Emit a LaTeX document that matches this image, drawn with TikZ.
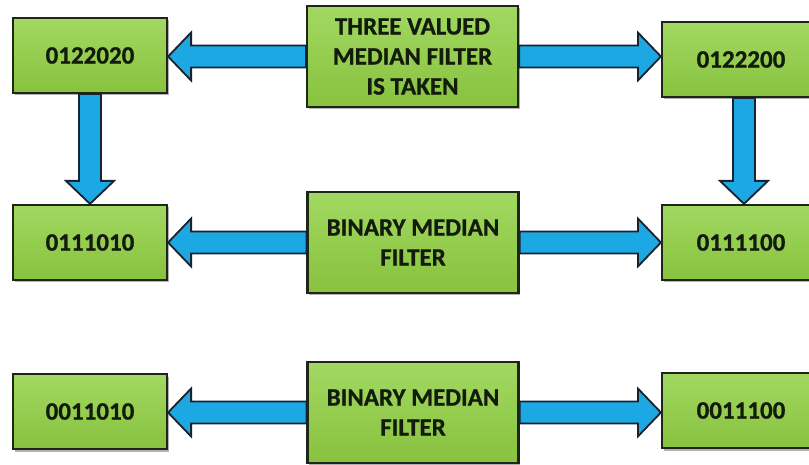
\documentclass[tikz,border=0pt]{standalone}
\usepackage{fontspec}
\setmainfont{Carlito}[BoldFeatures={FakeBold=0.9}]
\usetikzlibrary{calc,shadows}

\definecolor{boxline}{HTML}{1E2617}
\definecolor{gtop}{HTML}{A2D862}
\definecolor{gbot}{HTML}{88C23E}
\definecolor{txt}{HTML}{131B0C}
\definecolor{arrfill}{HTML}{1CA8E2}
\definecolor{arrline}{HTML}{17232E}

\tikzset{
  stagebox/.style={draw=boxline, line width=2.2pt, top color=gtop, bottom color=gbot,
    inner sep=0pt, align=center, text=txt,
    font=\bfseries\fontsize{25}{30}\selectfont,
    drop shadow={shadow xshift=1.5pt, shadow yshift=-2.5pt, opacity=0.3, fill=black}},
  valbox/.style={stagebox, minimum height=75pt},
  filterbox/.style={stagebox, minimum width=211pt, minimum height=101pt},
  % block arrow drawn as a closed outline between two anchors
  blockarrow/.style={draw=arrline, line width=1.8pt, fill=arrfill, line join=miter,
    to path={
      ($(\tikztostart)!11pt!90:(\tikztotarget)$)
      -- ($(\tikztotarget)!23pt!(\tikztostart)!11pt!-90:(\tikztostart)$)
      -- ($(\tikztotarget)!23pt!(\tikztostart)!24pt!-90:(\tikztostart)$)
      -- (\tikztotarget)
      -- ($(\tikztotarget)!23pt!(\tikztostart)!24pt!90:(\tikztostart)$)
      -- ($(\tikztotarget)!23pt!(\tikztostart)!11pt!90:(\tikztostart)$)
      -- ($(\tikztostart)!11pt!-90:(\tikztotarget)$)
      -- cycle}}
}

\begin{document}
\begin{tikzpicture}[x=1pt,y=-1pt]
  \clip (0,0) rectangle (809,465);
  \fill[white] (0,0) rectangle (809,465);

  % first row
  \node[filterbox] (c1) at (412.5,56.5) {THREE VALUED\\MEDIAN FILTER\\IS TAKEN};
  \node[valbox, minimum width=154pt] (l1) at (90,55.5) {0122020};
  \node[valbox, minimum width=158pt] (r1) at (741,59.5) {0122200};

  % second row
  \node[filterbox] (c2) at (413,242.5) {BINARY MEDIAN\\FILTER};
  \node[valbox, minimum width=154pt] (l2) at (90,242.5) {0111010};
  \node[valbox, minimum width=158pt] (r2) at (741,242.5) {0111100};

  % third row
  \node[filterbox] (c3) at (413,412.5) {BINARY MEDIAN\\FILTER};
  \node[valbox, minimum width=154pt] (l3) at (90,411.5) {0011010};
  \node[valbox, minimum width=158pt] (r3) at (741,410.5) {0011100};

  % horizontal arrows out of the filter boxes
  \draw[blockarrow] (c1.west) to (c1.west -| l1.east);
  \draw[blockarrow] (c1.east) to (c1.east -| r1.west);
  \draw[blockarrow] (c2.west) to (c2.west -| l2.east);
  \draw[blockarrow] (c2.east) to (c2.east -| r2.west);
  \draw[blockarrow] (c3.west) to (c3.west -| l3.east);
  \draw[blockarrow] (c3.east) to (c3.east -| r3.west);

  % vertical arrows between the first and second rows
  \draw[blockarrow] (l1.south) to (l2.north);
  \draw[blockarrow] ([xshift=3pt]r1.south) to ([xshift=3pt]r2.north);
\end{tikzpicture}
\end{document}
